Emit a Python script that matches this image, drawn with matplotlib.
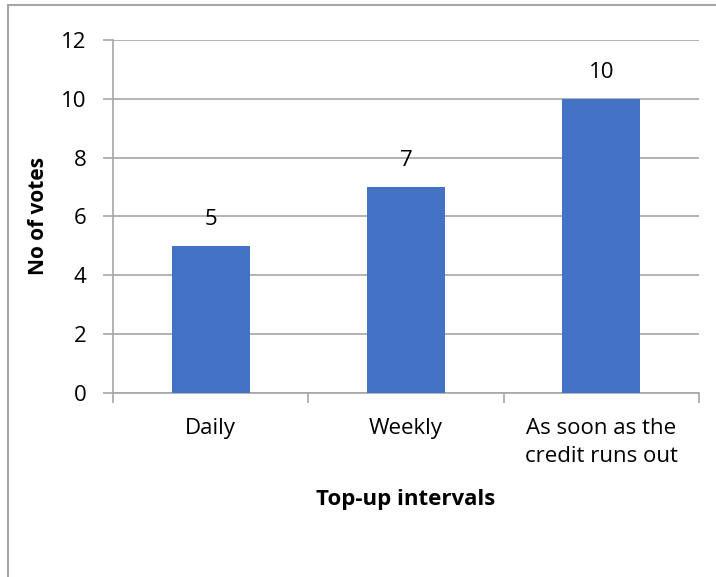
import matplotlib.pyplot as plt
from matplotlib.patches import Rectangle

categories = ['Daily', 'Weekly', 'As soon as the\ncredit runs out']
votes = [5, 7, 10]
y_ticks = [0, 2, 4, 6, 8, 10, 12]

plt.rcParams['font.family'] = ['Open Sans', 'DejaVu Sans']

fig = plt.figure(figsize=(7.16, 5.77), dpi=100)
ax = fig.add_axes([0.1578, 0.3189, 0.8185, 0.6118])

x = list(range(len(categories)))
bars = ax.bar(x, votes, width=0.4, color='#4472C4', zorder=3)

# value labels above bars
for xi, v in zip(x, votes):
    ax.text(xi, v + 0.55, str(v), ha='center', va='bottom', fontsize=16)

ax.set_xlim(-0.5, len(categories) - 0.5)
ax.set_ylim(0, 12)
ax.set_yticks(y_ticks)
ax.yaxis.grid(True, color='#a6a6a6', linewidth=1.2, zorder=0)

ax.set_xticks(x)
ax.set_xticklabels(categories, fontsize=16, linespacing=1.45)
ax.set_xticks([i - 0.5 for i in range(len(categories) + 1)], minor=True)
ax.tick_params(axis='x', which='major', length=0, pad=18)
ax.tick_params(axis='x', which='minor', length=7, color='#a6a6a6', width=1.2)
ax.tick_params(axis='y', length=7, color='#a6a6a6', width=1.2, labelsize=16, pad=12)

for side in ['top', 'right']:
    ax.spines[side].set_visible(False)
for side in ['left', 'bottom']:
    ax.spines[side].set_color('#a6a6a6')
    ax.spines[side].set_linewidth(1.2)

ax.set_ylabel('No of votes', fontsize=15, fontweight='bold', labelpad=8.5)
ax.set_xlabel('Top-up intervals', fontsize=16, fontweight='bold', labelpad=16)

# chart border (only top/left visible in the original crop)
fig.patches.append(Rectangle((8 / 716, -0.1), 1.2, 1.1 - 5 / 577, transform=fig.transFigure,
                             fill=False, edgecolor='#a6a6a6', linewidth=1.5))

fig.savefig('out.png', dpi=100)
